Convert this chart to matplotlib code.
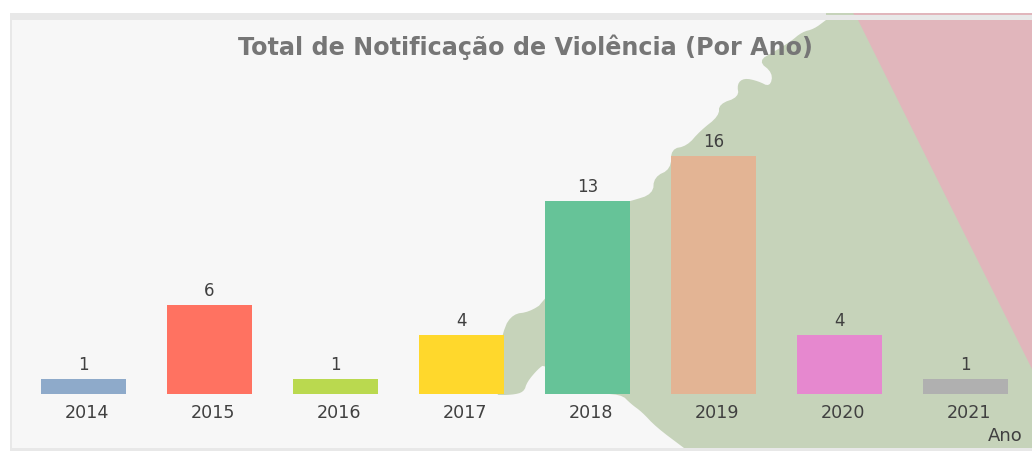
import matplotlib
matplotlib.use("Agg")
import matplotlib.pyplot as plt
from matplotlib.patches import Polygon, Rectangle

years = ["2014", "2015", "2016", "2017", "2018", "2019", "2020", "2021"]
counts = [1, 6, 1, 4, 13, 16, 4, 1]
colors = ["#8eaaca", "#ff7261", "#bad94f", "#ffd82c", "#66c398", "#e3b494", "#e688cf", "#b0b0b0"]
title = "Total de Notificação de Violência (Por Ano)"
axis_name = "Ano"

# decorative map shapes behind the chart, in pixel coordinates
coast = [(826,21),(814,30),(802,33),(790,43),(775,52),(758,62),(773,74),(770,88),(758,82),
    (744,79),(737,85),(739,98),(719,105),(719,117),(700,132),(687,147),(671,150),(671,170),(654,178),(653,195),
    (631,202),(600,210),(545,303),(529,313),(513,315),(503,330),(490,396),(512,396),(524,393),(527,383),(538,370),
    (545,365),(590,395),(621,395),(631,405),(642,413),(656,428),(684,449)]
corners = [(1032,449),(1032,14),(826,14)]
pink_outline = [(853,14),(858,21),(962,230),(1032,370),(1032,14)]


def chaikin(points, rounds=2):
    """Round off the hand-traced coastline."""
    for _ in range(rounds):
        out = [points[0]]
        for (x0, y0), (x1, y1) in zip(points, points[1:]):
            out.append((0.75*x0 + 0.25*x1, 0.75*y0 + 0.25*y1))
            out.append((0.25*x0 + 0.75*x1, 0.25*y0 + 0.75*y1))
        out.append(points[-1])
        points = out
    return points


W, H = 1032, 452
BASE, UNIT, STEP, FIRST = 395.0, 14.85, 126.0, 83.5
fig = plt.figure(figsize=(W/100, H/100), dpi=100, facecolor="white")

bg = fig.add_axes([0, 0, 1, 1], zorder=0)
bg.set_xlim(0, W); bg.set_ylim(H, 0); bg.axis("off")
bg.add_patch(Rectangle((10, 14), W-10, H-16, fc="#f7f7f7", ec="none"))
bg.add_patch(Polygon(chaikin(coast) + corners, fc="#c6d3ba", ec="none"))
bg.add_patch(Polygon(pink_outline, fc="#e1b6bc", ec="none"))
bg.add_patch(Rectangle((10, 16), W-10, 5, fc="#e8e8e8", ec="none"))
bg.add_patch(Rectangle((10, 14), 816, 2, fc="#e8e8e8", ec="none"))
bg.add_patch(Rectangle((10, 14), 1.5, H-16, fc="#e8e8e8", ec="none"))
bg.add_patch(Rectangle((10, 449), W-10, 3, fc="#e8e8e8", ec="none"))

ax = fig.add_axes([0, 0, 1, 1], zorder=1)
ax.patch.set_alpha(0)
ax.axis("off")
ax.set_xlim(-FIRST/STEP, (W-FIRST)/STEP)
ax.set_ylim(-(H-BASE)/UNIT, BASE/UNIT)
xs = list(range(len(years)))
ax.bar(xs, counts, width=85/STEP, color=colors, linewidth=0)

for x, c, y in zip(xs, counts, years):
    ax.annotate(str(c), (x, c), xytext=(0, 6), textcoords="offset pixels", ha="center", va="bottom",
                family="DejaVu Sans", fontsize=12, color="#404040")
    ax.annotate(y, (x, 0), xytext=(3, -9), textcoords="offset pixels", ha="center", va="top",
                family="DejaVu Sans", fontsize=12.6, color="#404040")

fig.text(525/W, 1-47/H, title, ha="center", va="center", family="DejaVu Sans", fontweight="bold",
         fontsize=17.2, color="#767676", zorder=3)
fig.text(1005.5/W, 1-436/H, axis_name, ha="center", va="center", family="DejaVu Sans", fontsize=13,
         color="#404040", zorder=3)

fig.savefig("out.png", dpi=100, facecolor="white")
